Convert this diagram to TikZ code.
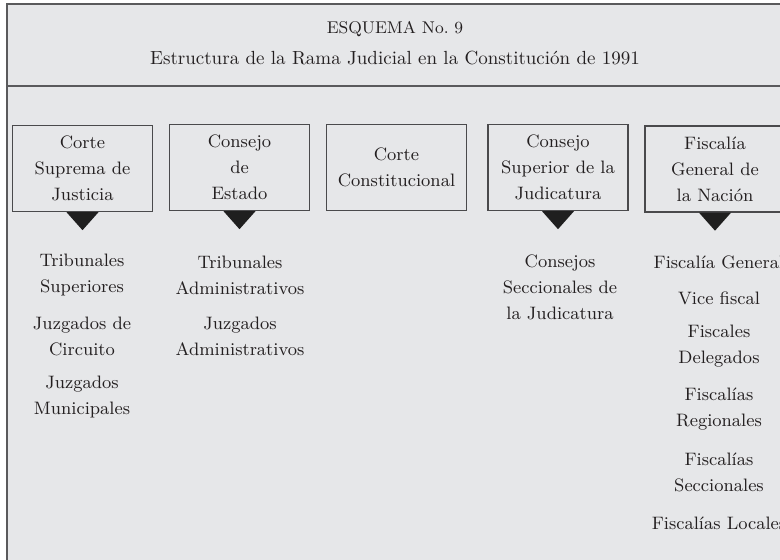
\documentclass[tikz,border=0pt]{standalone}
\usepackage{fontspec}
\definecolor{bggray}{HTML}{E6E7E9}
\definecolor{framegray}{HTML}{5A5A5C}
\definecolor{boxgray}{HTML}{4A4A4C}
\definecolor{txt}{HTML}{231F20}
\newcommand\boxfont{\fontsize{9}{13}\selectfont}
\begin{document}
\begin{tikzpicture}[x=0.5pt,y=-0.5pt,
  frame/.style={draw=framegray,line width=1pt},
  box/.style={draw=boxgray,line width=0.7pt,fill=bggray,minimum width=70pt,minimum height=43pt,align=center,font=\boxfont,text=txt,inner sep=0pt},
  item/.style={align=center,font=\boxfont,text=txt,inner sep=0pt},
  tri/.style={fill=black!88}]
\useasboundingbox (0,0) rectangle (780,560);
\clip (0,0) rectangle (780,560);
\fill[bggray] (7,4) rectangle (800,580);
\draw[frame] (800,4) -- (7,4) -- (7,580);
\draw[frame] (7,86) -- (800,86);
% header
\node[font=\fontsize{8.5}{10}\selectfont,text=txt] (title) at (395,29) {ESQUEMA No.~9};
\node[font=\fontsize{9.5}{12}\selectfont,text=txt] (subtitle) at (395,58) {Estructura de la Rama Judicial en la Constitución de 1991};
% boxes
\node[box] (b1) at (82.5,168.5) {Corte\\Suprema de\\Justicia};
\node[box] (b2) at (239.5,167.5) {Consejo\\de\\Estado};
\node[box] (b3) at (396.5,167.5) {Corte\\Constitucional};
\node[box] (b4) at (558,167.5) {Consejo\\Superior de la\\Judicatura};
\node[box] (b5) at (715,169) {Fiscalía\\General de\\la Nación};
% triangles
\foreach \b in {b1,b2,b4,b5}{
  \fill[tri] ([xshift=-8pt]\b.south) -- ([xshift=8pt]\b.south) -- ([yshift=-9pt]\b.south) -- cycle;
}
% column 1
\node[item] (c1a) at (82,275) {Tribunales\\Superiores};
\node[item] (c1b) at (82,336) {Juzgados de\\Circuito};
\node[item] (c1c) at (82,397) {Juzgados\\Municipales};
% column 2
\node[item] (c2a) at (240,275) {Tribunales\\Administrativos};
\node[item] (c2b) at (240,336) {Juzgados\\Administrativos};
% column 4
\node[item] (c4a) at (560,287) {Consejos\\Seccionales de\\la Judicatura};
% column 5
\node[item] (c5a) at (719,262) {Fiscalía General};
\node[item] (c5b) at (719,298) {Vice fiscal};
\node[item] (c5c) at (719,346) {Fiscales\\Delegados};
\node[item] (c5d) at (719,409) {Fiscalías\\Regionales};
\node[item] (c5e) at (719,472) {Fiscalías\\Seccionales};
\node[item] (c5f) at (719,523) {Fiscalías Locales};
\end{tikzpicture}
\end{document}
